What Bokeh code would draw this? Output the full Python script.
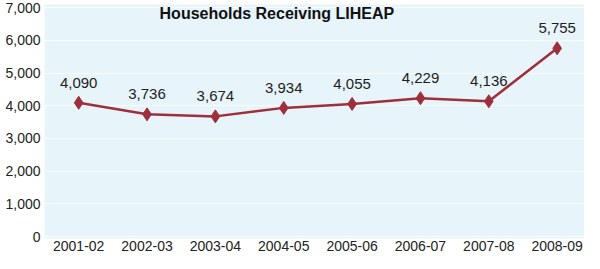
from bokeh.plotting import figure
from bokeh.models import Range1d, ColumnDataSource, FixedTicker, Label, NumeralTickFormatter
from bokeh.core.properties import value
from bokeh.embed import file_html
from bokeh.resources import INLINE

years = ["2001-02", "2002-03", "2003-04", "2004-05", "2005-06", "2006-07", "2007-08", "2008-09"]
households = [4090, 3736, 3674, 3934, 4055, 4229, 4136, 5755]
y_ticks = [0, 1000, 2000, 3000, 4000, 5000, 6000, 7000]
title_text = "Households Receiving LIHEAP"

xs = list(range(len(years)))
src = ColumnDataSource(dict(
    x=xs, y=households, lbl=[f"{v:,}" for v in households]))

p = figure(width=584, height=253, output_backend="svg", toolbar_location=None,
           x_range=Range1d(-0.5, 7.4), y_range=Range1d(-60, 7095),
           min_border_left=44, min_border_right=0, min_border_top=4, min_border_bottom=0)
p.outline_line_color = None
p.background_fill_color = "#e7f4fa"
p.border_fill_color = "white"

p.xgrid.grid_line_color = None
p.ygrid.grid_line_color = "white"
p.ygrid.grid_line_alpha = 0.8
p.ygrid.ticker = FixedTicker(ticks=y_ticks)

p.yaxis.ticker = FixedTicker(ticks=y_ticks)
p.yaxis.formatter = NumeralTickFormatter(format="0,0")
p.xaxis.ticker = FixedTicker(ticks=xs)
p.xaxis.major_label_overrides = {i: y for i, y in enumerate(years)}
for ax in (p.xaxis[0], p.yaxis[0]):
    ax.axis_line_color = None
    ax.major_tick_line_color = None
    ax.minor_tick_line_color = None
    ax.major_tick_out = 0
    ax.major_tick_in = 0
    ax.major_label_text_font = "Liberation Sans"
    ax.major_label_text_font_size = "14px"
    ax.major_label_text_color = "#222222"
    ax.major_label_standoff = 4
p.xaxis[0].major_label_standoff = 2

p.line("x", "y", source=src, line_color="#9e2f3c", line_width=2.5)
p.scatter("x", "y", source=src, marker="diamond", size=13, fill_color="#9e2f3c",
          line_color="#9e2f3c")
p.text("x", "y", text="lbl", source=src, text_align="center", text_baseline="bottom",
       y_offset=-15, text_font=value("Liberation Sans"), text_font_size="15px",
       text_color="#1e1e1e")

p.add_layout(Label(x=2.9, y=7095, text=title_text, text_align="center",
                   text_baseline="top", text_font="Liberation Sans Narrow, Liberation Sans",
                   text_font_style="bold", text_font_size="16px", text_color="#111111"))

open("out.html", "w").write(file_html(p, INLINE))
